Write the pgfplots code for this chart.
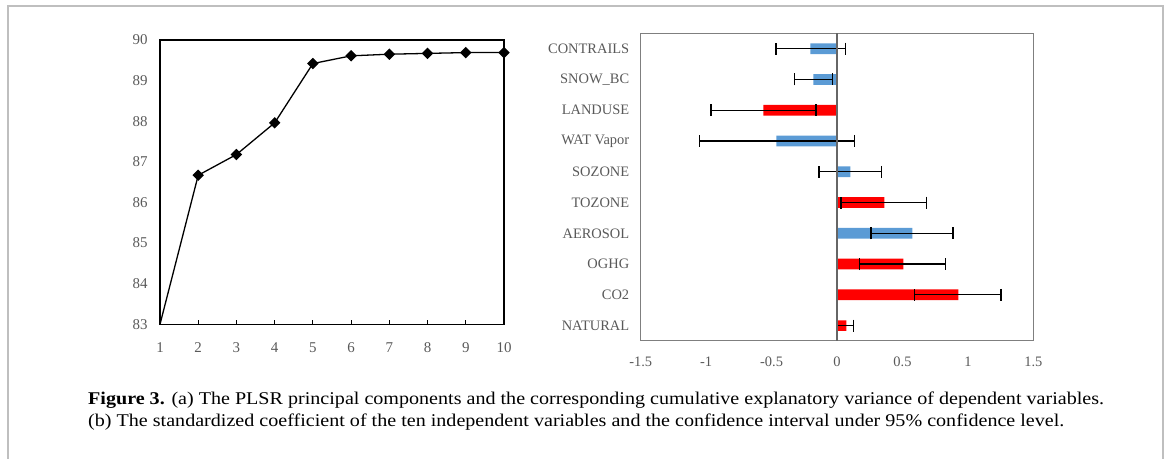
\documentclass[border=0pt]{standalone}
\usepackage{fontspec}
\setmainfont{Liberation Serif}
\newfontfamily\capfont[FakeStretch=1.12]{Liberation Serif}
\usepackage{pgfplots}
\pgfplotsset{compat=1.18}
\definecolor{barred}{HTML}{FF0000}
\definecolor{barblue}{HTML}{5B9BD5}
\definecolor{lbl}{HTML}{595959}
\definecolor{frame}{HTML}{7F7F7F}
\pgfplotstableread{
y v ep em
0 0.071 0.056 0.071
1 0.927 0.326 0.334
2 0.507 0.321 0.334
4 0.362 0.320 0.331
7 -0.563 0.403 0.400
}\redtab
\pgfplotstableread{
y v ep em
3 0.576 0.310 0.316
5 0.102 0.239 0.240
6 -0.463 0.595 0.589
8 -0.181 0.145 0.145
9 -0.204 0.268 0.262
}\bluetab
\begin{document}
\begin{tikzpicture}[x=1bp,y=1bp]
\path[use as bounding box] (0,0) rectangle (1168,459);
\draw[black!25, line width=1.5bp] (8,0) -- (8,453) -- (1163,453) -- (1163,0);
% left panel
\begin{axis}[at={(160bp,134.7bp)}, anchor=south west, scale only axis,
  width=344bp, height=284.3bp,
  xmin=1, xmax=10, ymin=83, ymax=90,
  xtick={1,...,10}, ytick={83,...,90},
  axis line style={black, line width=1.2bp},
  xtick pos=bottom, ytick pos=left,
  xtick align=inside, major tick length=4bp,
  ytick style={draw=none},
  xtick style={black, line width=1bp},
  ticklabel style={font=\fontsize{15}{15}\selectfont, text=lbl},
  /pgf/number format/assume math mode=true,
  xticklabel style={yshift=-15bp},
  yticklabel style={xshift=-9bp},
  clip=false,
]
\addplot[black, line width=1.3bp, mark=square*, mark size=3.4bp,
  mark options={rotate=45, fill=black}, mark indices={2,3,4,5,6,7,8,9,10}]
  coordinates {(1,83) (2,86.67) (3,87.18) (4,87.96) (5,89.42) (6,89.61) (7,89.65) (8,89.67) (9,89.69) (10,89.69)};
\end{axis}
% right panel
\begin{axis}[at={(640.7bp,118bp)}, anchor=south west, scale only axis,
  width=392.6bp, height=307.7bp,
  xmin=-1.5, xmax=1.5, ymin=-0.5, ymax=9.5,
  xtick={-1.5,-1,...,1.5}, ytick={0,...,9},
  yticklabels={NATURAL,CO2,OGHG,AEROSOL,TOZONE,SOZONE,WAT Vapor,LANDUSE,SNOW\_BC,CONTRAILS},
  axis line style={frame, line width=1bp},
  major tick length=0pt,
  ticklabel style={font=\fontsize{14.5}{14.5}\selectfont, text=lbl},
  /pgf/number format/assume math mode=true,
  xticklabel style={yshift=-12bp},
  yticklabel style={xshift=-8bp},
  xbar, bar width=10.7bp, bar shift=0pt,
]
\addplot[draw=none, fill=barred,
  error bars/.cd, x dir=both, x explicit,
  error bar style={black, line width=1.2bp}, error mark options={black, line width=1.2bp, mark size=6bp, rotate=90}]
  table[x=v, y=y, x error plus=ep, x error minus=em] {\redtab};
\addplot[draw=none, fill=barblue,
  error bars/.cd, x dir=both, x explicit,
  error bar style={black, line width=1.2bp}, error mark options={black, line width=1.2bp, mark size=6bp, rotate=90}]
  table[x=v, y=y, x error plus=ep, x error minus=em] {\bluetab};
\draw[black!60, line width=1.6bp] (axis cs:0,-0.5) -- (axis cs:0,9.5);
\end{axis}
% caption
\node[anchor=base west, inner sep=0pt, font=\capfont\fontsize{18}{18}\selectfont] at (88,54)
  {\textbf{Figure 3.} (a) The PLSR principal components and the corresponding cumulative explanatory variance of dependent variables.};
\node[anchor=base west, inner sep=0pt, font=\capfont\fontsize{18}{18}\selectfont] at (88,32)
  {(b) The standardized coefficient of the ten independent variables and the confidence interval under 95\% confidence level.};
\end{tikzpicture}
\end{document}
